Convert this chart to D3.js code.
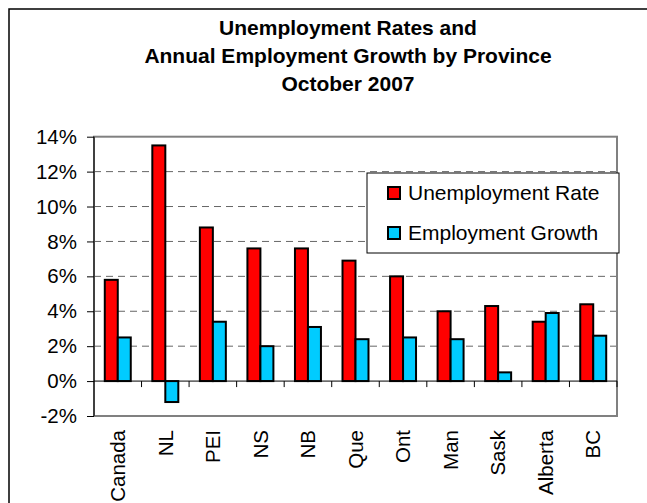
<!DOCTYPE html>
<html>
<head>
<meta charset="utf-8">
<script src="https://cdn.jsdelivr.net/npm/d3@7"></script>
<style>
  body { margin: 0; background: #fff; }
  svg { display: block; font-family: "Liberation Sans", Arial, sans-serif; }
</style>
</head>
<body>
<svg id="chart" width="647" height="503"></svg>
<script>
const provinces = ["Canada", "NL", "PEI", "NS", "NB", "Que", "Ont", "Man", "Sask", "Alberta", "BC"];
const seriesNames = ["Unemployment Rate", "Employment Growth"];
const unemploymentRate = [5.8, 13.5, 8.8, 7.6, 7.6, 6.9, 6.0, 4.0, 4.3, 3.4, 4.4];
const employmentGrowth = [2.5, -1.2, 3.4, 2.0, 3.1, 2.4, 2.5, 2.4, 0.5, 3.9, 2.6];
const yTicks = [-2, 0, 2, 4, 6, 8, 10, 12, 14];
const titleLines = ["Unemployment Rates and", "Annual Employment Growth by Province", "October 2007"];
const seriesColors = ["#ff0000", "#00ccff"];

let svg = d3.select("#chart");

// chart area border (runs off the right / bottom of the picture)
svg.append("rect")
    .attr("x", 9).attr("y", 9)
    .attr("width", 700).attr("height", 600)
    .attr("fill", "none")
    .attr("stroke", "#000")
    .attr("stroke-width", 1.5);

svg.append("g").selectAll("text")
    .data(titleLines)
    .join("text")
    .attr("x", 348)
    .attr("y", (d, i) => 35 + i * 27.8)
    .attr("text-anchor", "middle")
    .attr("font-weight", "bold")
    .attr("font-size", "21px")
    .text(d => d);

const plot = { left: 94, right: 617, top: 136.7, bottom: 416 };

let x0 = d3.scaleBand()
    .domain(provinces)
    .range([plot.left, plot.right]);

let x1 = d3.scaleBand()
    .domain(seriesNames)
    .range([0, x0.bandwidth()])
    .paddingOuter(0.83);

let y = d3.scaleLinear()
    .domain([-2, 14])
    .range([plot.bottom, plot.top]);

// gridlines
svg.append("g").selectAll("line")
    .data(yTicks.filter(t => t > 0 && t < 14))
    .join("line")
    .attr("x1", plot.left).attr("x2", plot.right)
    .attr("y1", d => y(d)).attr("y2", d => y(d))
    .attr("stroke", "#666")
    .attr("stroke-dasharray", "7,5");

// plot frame
svg.append("rect")
    .attr("x", plot.left).attr("y", plot.top)
    .attr("width", plot.right - plot.left)
    .attr("height", plot.bottom - plot.top)
    .attr("fill", "none")
    .attr("stroke", "#808080")
    .attr("stroke-width", 2);

let rows = provinces.map((p, i) => ({ p: p, values: [unemploymentRate[i], employmentGrowth[i]] }));

svg.append("g").selectAll("g")
    .data(rows)
    .join("g")
    .attr("transform", d => `translate(${x0(d.p)},0)`)
    .selectAll("rect")
    .data(d => d.values.map((v, k) => ({ s: seriesNames[k], v: v, k: k })))
    .join("rect")
    .attr("x", d => x1(d.s))
    .attr("width", x1.bandwidth())
    .attr("y", d => y(Math.max(0, d.v)))
    .attr("height", d => Math.abs(y(d.v) - y(0)))
    .attr("fill", d => seriesColors[d.k])
    .attr("stroke", "#000")
    .attr("stroke-width", 2);

// y axis
let yAxis = svg.append("g")
    .attr("transform", `translate(${plot.left},0)`)
    .call(d3.axisLeft(y).tickValues(yTicks).tickFormat(d => d + "%").tickSize(7).tickPadding(10));
yAxis.select(".domain").attr("d", `M0,${plot.top}V${plot.bottom}`).attr("stroke", "#000");
yAxis.selectAll("text").attr("font-size", "20.5px").attr("fill", "#000").attr("font-family", null);

// zero line with ticks between categories
svg.append("line")
    .attr("x1", plot.left).attr("x2", plot.right)
    .attr("y1", y(0)).attr("y2", y(0))
    .attr("stroke", "#000");

svg.append("g").selectAll("line")
    .data(provinces)
    .join("line")
    .attr("x1", d => x0(d) + x0.step()).attr("x2", d => x0(d) + x0.step())
    .attr("y1", y(0)).attr("y2", y(0) + 6)
    .attr("stroke", "#000");

// category labels
let xAxis = svg.append("g")
    .attr("transform", `translate(0,${plot.bottom})`)
    .call(d3.axisBottom(x0).tickSize(0));
xAxis.select(".domain").remove();
xAxis.selectAll("text")
    .attr("font-size", "20.5px")
    .attr("font-family", null)
    .attr("fill", "#000")
    .attr("transform", "rotate(-90)")
    .attr("text-anchor", "end")
    .attr("x", -14)
    .attr("y", 0)
    .attr("dy", "0.35em");

// legend
let legend = svg.append("g").attr("transform", "translate(367,173)");
legend.append("rect")
    .attr("width", 252).attr("height", 80)
    .attr("fill", "#fff")
    .attr("stroke", "#000");

let items = legend.selectAll("g")
    .data(seriesNames)
    .join("g")
    .attr("transform", (d, i) => `translate(20,${20 + i * 40})`);
items.append("rect")
    .attr("x", 1).attr("y", -6)
    .attr("width", 12).attr("height", 12)
    .attr("fill", (d, i) => seriesColors[i])
    .attr("stroke", "#000")
    .attr("stroke-width", 2);
items.append("text")
    .attr("x", 21)
    .attr("dy", "0.35em")
    .attr("font-size", "21px")
    .text(d => d);
</script>
</body>
</html>
